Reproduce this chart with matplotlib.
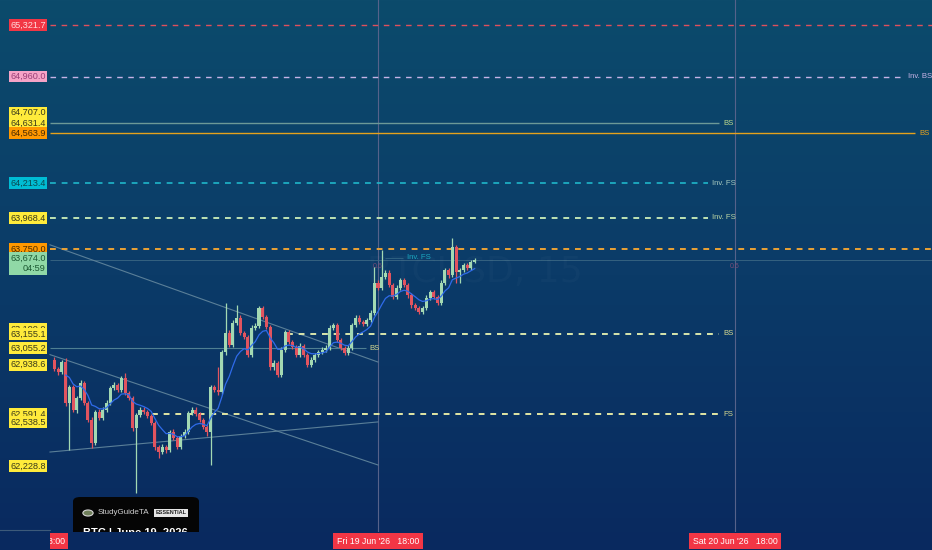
import numpy as np
import pandas as pd
import matplotlib
matplotlib.use("Agg")
import matplotlib.pyplot as plt
import matplotlib.dates as mdates
from matplotlib.colors import LinearSegmentedColormap
from matplotlib.patches import Rectangle, FancyBboxPatch, Circle
from matplotlib.transforms import blended_transform_factory

plt.rcParams['font.family'] = ['Liberation Sans', 'DejaVu Sans']

W, H = 932, 550

# 15 minute candles, BTC
bar_start = "2026-06-18 20:15"
opens = [62972, 62909, 62888, 62958, 62671, 62783, 62622, 62706, 62811, 62671,
         62552, 62390, 62608, 62566, 62622, 62671, 62776, 62797, 62762, 62846,
         62741, 62706, 62495, 62587, 62622, 62608, 62580, 62531, 62362, 62327,
         62362, 62341, 62467, 62425, 62362, 62439, 62467, 62601, 62622, 62594,
         62552, 62502, 62467, 62783, 62762, 62748, 63028, 63162, 63078, 63232,
         63267, 63162, 63134, 63007, 63197, 63211, 63337, 63274, 63204, 62923,
         62951, 62867, 63042, 63169, 63099, 63064, 63007, 63071, 63007, 62937,
         62972, 63007, 63028, 63042, 63057, 63197, 63218, 63113, 63057, 63021,
         63057, 63218, 63267, 63239, 63225, 63253, 63302, 63512, 63477, 63554,
         63582, 63498, 63414, 63477, 63533, 63498, 63428, 63358, 63337, 63309,
         63337, 63407, 63449, 63414, 63372, 63512, 63603, 63568, 63765, 63589,
         63603, 63639, 63618, 63660]
closes = [62909, 62888, 62958, 62671, 62783, 62622, 62706, 62811, 62671, 62552,
          62390, 62608, 62566, 62622, 62671, 62776, 62797, 62762, 62846, 62741,
          62706, 62495, 62587, 62622, 62608, 62580, 62531, 62362, 62327, 62362,
          62341, 62467, 62425, 62362, 62439, 62467, 62601, 62622, 62594, 62552,
          62502, 62467, 62783, 62762, 62748, 63028, 63162, 63078, 63232, 63267,
          63162, 63134, 63007, 63197, 63211, 63337, 63274, 63204, 62923, 62951,
          62867, 63042, 63169, 63099, 63064, 63007, 63071, 63007, 62937, 62972,
          63007, 63028, 63042, 63057, 63197, 63218, 63113, 63057, 63021, 63057,
          63218, 63267, 63239, 63225, 63253, 63302, 63512, 63477, 63554, 63582,
          63498, 63414, 63477, 63533, 63498, 63428, 63358, 63337, 63309, 63337,
          63407, 63449, 63414, 63372, 63512, 63603, 63568, 63765, 63589, 63603,
          63639, 63618, 63660, 63674]
highs = [62990, 62925, 62975, 62986, 62800, 62800, 62720, 62830, 62825, 62685,
         62570, 62625, 62630, 62640, 62690, 62790, 62815, 62810, 62860, 62881,
         62755, 62720, 62600, 62640, 62640, 62625, 62595, 62545, 62375, 62380,
         62375, 62480, 62485, 62440, 62455, 62485, 62615, 62640, 62640, 62610,
         62565, 62515, 62800, 62800, 62920, 63045, 63372, 63180, 63250, 63358,
         63285, 63175, 63150, 63215, 63230, 63350, 63350, 63290, 63220, 62970,
         62965, 63060, 63185, 63185, 63115, 63080, 63090, 63085, 63020, 62990,
         63020, 63045, 63060, 63075, 63215, 63235, 63235, 63125, 63070, 63075,
         63235, 63285, 63285, 63255, 63270, 63320, 63625, 63530, 63744, 63600,
         63600, 63515, 63495, 63550, 63550, 63515, 63440, 63370, 63350, 63350,
         63425, 63465, 63465, 63430, 63530, 63620, 63620, 63830, 63780, 63620,
         63655, 63655, 63675, 63690]
lows = [62895, 62870, 62875, 62650, 62341, 62605, 62600, 62690, 62655, 62535,
        62355, 62375, 62550, 62550, 62605, 62660, 62760, 62745, 62750, 62725,
        62690, 62475, 62040, 62570, 62595, 62565, 62515, 62340, 62285, 62310,
        62320, 62325, 62410, 62345, 62348, 62425, 62455, 62590, 62580, 62540,
        62485, 62440, 62236, 62745, 62730, 62735, 63010, 63060, 63065, 63220,
        63145, 63120, 62990, 62995, 63180, 63195, 63260, 63190, 62905, 62905,
        62850, 62855, 63030, 63085, 63050, 62990, 62995, 62990, 62920, 62925,
        62960, 62995, 63015, 63030, 63045, 63185, 63100, 63040, 63005, 63010,
        63045, 63205, 63225, 63210, 63210, 63240, 63290, 63460, 63465, 63540,
        63485, 63400, 63400, 63465, 63485, 63410, 63340, 63320, 63295, 63295,
        63325, 63395, 63400, 63355, 63360, 63500, 63550, 63555, 63510, 63510,
        63590, 63600, 63605, 63650]

# drawn levels (left price axis labels)
label_prices = [65321.7, 64960.0, 64707.0, 64631.4, 64563.9, 64213.4, 63968.4,
                63750.0, 63190.0, 63155.1, 63055.2, 62938.6, 62591.4, 62538.5, 62228.8]
label_colors = ["#f23645", "#f5a3c7", "#ffeb3b", "#ffeb3b", "#ff9800", "#00bcd4",
                "#ffeb3b", "#ff9800", "#ffeb3b", "#ffeb3b", "#ffeb3b", "#ffeb3b",
                "#ffeb3b", "#ffeb3b", "#ffeb3b"]
label_text_colors = ["#ffd9dc", "#9a3f77", "#3a3a1a", "#3a3a1a", "#4a2a00", "#0a4750",
                     "#3a3a1a", "#4a2a00", "#3a3a1a", "#3a3a1a", "#3a3a1a", "#3a3a1a",
                     "#3a3a1a", "#3a3a1a", "#3a3a1a"]
last_price = 63674.0
countdown = "04:59"

# trend lines: (start, end) times and prices
trend_times = [("2026-06-18 19:57", "2026-06-19 18:00"),
               ("2026-06-18 19:57", "2026-06-19 18:00"),
               ("2026-06-18 19:57", "2026-06-19 18:00")]
trend_prices = [(63780, 62958), (63010, 62236), (62327, 62538)]

vlines = ["2026-06-19 18:00", "2026-06-20 18:00"]
time_labels = ["Thu 18 Jun '26   18:00", "Fri 19 Jun '26   18:00", "Sat 20 Jun '26   18:00"]
time_label_pos = ["2026-06-18 18:00", "2026-06-19 18:00", "2026-06-20 18:00"]

times = pd.date_range(bar_start, periods=len(closes), freq="15min")
tnum = mdates.date2num(times.to_pydatetime())
ema = pd.Series(closes).ewm(span=9, adjust=False).mean().values


def T(s):
    return mdates.date2num(pd.Timestamp(s).to_pydatetime())


fig = plt.figure(figsize=(W / 100, H / 100), dpi=100)
ax = fig.add_axes([0, 0, 1, 1])
ax.axis("off")

# background gradient
bg = LinearSegmentedColormap.from_list("bg", ["#0c4b6c", "#0b3b68", "#09295f"])
ax.imshow(np.linspace(0, 1, 256).reshape(-1, 1), cmap=bg, aspect="auto",
          extent=[0, 1, 0, 1], transform=ax.transAxes, zorder=0)

xl = ax.get_xaxis_transform()
yl = blended_transform_factory(ax.transAxes, ax.transData)

# vertical session lines
for v in vlines:
    ax.axvline(T(v), color="#56628a", lw=0.8, zorder=1)

# faint last price line
ax.hlines(last_price, T("2026-06-18 19:57"), T("2026-06-21 08:00"), color="#3b6884", lw=0.6, zorder=1)

# trend lines
for (t0, t1), (p0, p1) in zip(trend_times, trend_prices):
    ax.plot([T(t0), T(t1)], [p0, p1], color="#5a7f98", lw=0.8, zorder=1)

# horizontal levels
def level(p, t0, t1, color, lw, dash=None, text=None, tcolor=None):
    ls = "-" if dash is None else (0, dash)
    ax.hlines(p, T(t0), T(t1), color=color, lw=lw, linestyles=[ls], zorder=2)
    if text:
        ax.annotate(text, (T(t1), p), xytext=(3, 0), textcoords="offset points",
                    ha="left", va="center", fontsize=5.6, color=tcolor or color, zorder=5)

left = "2026-06-18 19:57"
level(65321.7, left, "2026-06-21 08:00", "#e0505c", 1.0, (4, 4))
level(64960.0, left, "2026-06-21 05:20", "#c7b3e6", 1.0, (4, 4), "Inv. BS", "#c7b3e6")
level(64631.4, left, "2026-06-20 16:55", "#6c9997", 1.0, None, "BS", "#bcd98c")
level(64563.9, left, "2026-06-21 06:05", "#e6a21c", 1.0, None, "BS", "#e6a21c")
level(64213.4, left, "2026-06-20 16:10", "#1fb6ca", 1.2, (3.5, 3.5), "Inv. FS", "#a6c9bf")
level(63968.4, left, "2026-06-20 16:10", "#bfe3b4", 1.4, (3, 3), "Inv. FS", "#bcd6a4")
level(63750.0, left, "2026-06-21 08:00", "#eca234", 1.4, (3, 3))
level(63155.1, "2026-06-19 11:53", "2026-06-20 16:55", "#d9e6ac", 1.4, (3, 3), "BS", "#d6d88f")
level(63055.2, left, "2026-06-19 17:10", "#4f7f92", 0.8, None, "BS", "#d6d88f")
level(62591.4, "2026-06-19 02:48", "2026-06-20 16:55", "#e2e6a4", 1.4, (3, 3), "FS", "#d6d88f")
ax.hlines(63690, T("2026-06-19 18:28"), T("2026-06-19 19:40"), color="#2d5f80", lw=0.8, zorder=2)
ax.annotate("Inv. FS", (T("2026-06-19 19:40"), 63690), xytext=(3, 0), textcoords="offset points",
            ha="left", va="center", fontsize=5.6, color="#1aa8c0", zorder=5)
for v in vlines:
    ax.annotate("0.6", (T(v), 63630), xytext=(0, 0), textcoords="offset points",
                ha="center", va="center", fontsize=5, color="#7a4d78", zorder=2)

# faint watermark
ax.text(T("2026-06-20 00:30"), 63590, "BTCUSD, 15", fontsize=26, color="#ffffff",
        family="DejaVu Sans", alpha=0.025, ha="center", va="center", zorder=1)

# candles
up = np.array(closes) >= np.array(opens)
body_lo = np.minimum(opens, closes)
body_h = np.maximum(np.abs(np.array(closes) - np.array(opens)), 4)
green, red = "#a3d9b3", "#e2545f"
cols = [green if u else red for u in up]
ax.vlines(tnum, lows, highs, colors=cols, lw=0.9, zorder=3)
ax.bar(tnum, body_h, bottom=body_lo, width=0.205 / 24, color=cols, linewidth=0, zorder=4)

# moving average
ax.plot(tnum[3:], ema[3:], color="#2f6bea", lw=0.9, zorder=4)

# price labels on the left
for p, c, tc in zip(label_prices, label_colors, label_text_colors):
    ax.text(28 / W, p, f"{p:,.1f}", transform=yl, ha="center", va="center",
            fontsize=6.6, color=tc, zorder=8,
            bbox=dict(boxstyle="square,pad=0.15", fc=c, ec="none"))
ax.text(28 / W, last_price - 25, f"{last_price:,.1f}\n{countdown}", transform=yl,
        ha="center", va="center", fontsize=6.6, color="#1d5a33", multialignment="right",
        zorder=8, linespacing=1.15,
        bbox=dict(boxstyle="square,pad=0.18", fc="#90d8a6", ec="none"))

# publisher card
card = FancyBboxPatch((73 / W, 1 - 545 / H), 126 / W, 48 / H, transform=ax.transAxes,
                      boxstyle="round,pad=0,rounding_size=0.008", fc="#050505", ec="none", zorder=9)
ax.add_patch(card)
ax.add_patch(Circle((88 / W, 1 - 513 / H), 0.0055, transform=ax.transAxes,
                    fc="#6f7f5a", ec="#d8d8d8", lw=0.8, zorder=10))
ax.text(98 / W, 1 - 513 / H, "StudyGuideTA", transform=ax.transAxes, ha="left", va="center",
        fontsize=5.8, color="#cfcfcf", zorder=10)
ax.text(171 / W, 1 - 513 / H, "ESSENTIAL", transform=ax.transAxes, ha="center", va="center",
        fontsize=4.0, color="#222222", fontweight="bold", zorder=10,
        bbox=dict(boxstyle="square,pad=0.25", fc="#e6e6e6", ec="none"))
ax.text(83 / W, 1 - 533 / H, "BTC | June 19, 2026", transform=ax.transAxes, ha="left",
        va="center", fontsize=8, color="#ffffff", fontweight="bold", zorder=10)

# time axis strip
ax.add_patch(Rectangle((0, 0), 1, 18 / H, transform=ax.transAxes, fc="#09295f", ec="none", zorder=11))
for lab, pos in zip(time_labels, time_label_pos):
    ax.text(T(pos), 9 / H, lab, transform=xl, ha="center", va="center", fontsize=6.3,
            color="#ffffff", zorder=12,
            bbox=dict(boxstyle="square,pad=0.45", fc="#f23645", ec="none"))
ax.add_patch(Rectangle((0, 0), 50 / W, 18 / H, transform=ax.transAxes, fc="#09295f", ec="none", zorder=13))
ax.plot([0, 50 / W], [1 - 530 / H] * 2, transform=ax.transAxes, color="#3d5a7a", lw=0.8, zorder=13)

# scales: 14.875 px per hour, 7.013 price per px
fri0 = T("2026-06-19 00:00")
ax.set_xlim(fri0 + (18 - 378 / 14.875) / 24, fri0 + (18 + 554 / 14.875) / 24)
ax.set_ylim(65497 - 7.013 * H, 65497)

fig.savefig("out.png", dpi=100)
